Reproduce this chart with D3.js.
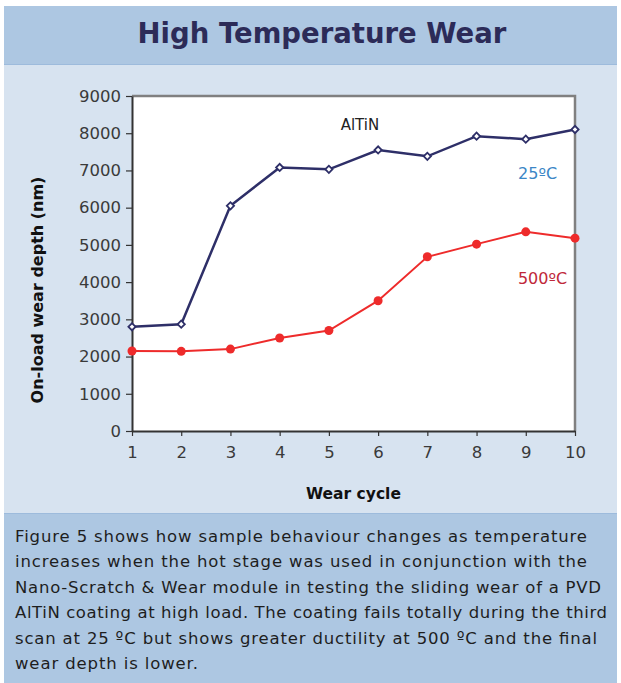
<!DOCTYPE html>
<html>
<head>
<meta charset="utf-8">
<script src="https://cdn.jsdelivr.net/npm/d3@7"></script>
<style>
  body { margin: 0; background: #fff; }
  svg text { font-family: "DejaVu Sans", sans-serif; }
</style>
</head>
<body>
<div id="chart"></div>
<script>
// data
var cycles = [1, 2, 3, 4, 5, 6, 7, 8, 9, 10];
var depth25 = [2800, 2870, 6050, 7080, 7030, 7550, 7380, 7920, 7840, 8100];
var depth500 = [2150, 2140, 2200, 2500, 2700, 3500, 4680, 5020, 5350, 5180];
var yTicks = [0, 1000, 2000, 3000, 4000, 5000, 6000, 7000, 8000, 9000];
var captionLines = [
  "Figure 5 shows how sample behaviour changes as temperature",
  "increases when the hot stage was used in conjunction with the",
  "Nano-Scratch & Wear module in testing the sliding wear of a PVD",
  "AlTiN coating at high load. The coating fails totally during the third",
  "scan at 25 \u00baC but shows greater ductility at 500 \u00baC and the final",
  "wear depth is lower."
];

var W = 621, H = 683;
var svg = d3.select("#chart").append("svg")
  .attr("width", W)
  .attr("height", H);

// panel bands
svg.append("rect").attr("x", 4).attr("y", 6).attr("width", 613).attr("height", 58).attr("fill", "#adc7e2");
svg.append("rect").attr("x", 4).attr("y", 64).attr("width", 613).attr("height", 449).attr("fill", "#d7e3f0");
svg.append("line").attr("x1", 4).attr("x2", 617).attr("y1", 64.5).attr("y2", 64.5).attr("stroke", "#9dbbdc");
svg.append("rect").attr("x", 4).attr("y", 513).attr("width", 613).attr("height", 170).attr("fill", "#adc7e2");
svg.append("line").attr("x1", 4).attr("x2", 617).attr("y1", 513.5).attr("y2", 513.5).attr("stroke", "#9dbbdc");

svg.append("text")
  .attr("x", 322).attr("y", 43)
  .attr("text-anchor", "middle")
  .attr("font-size", 27.5).attr("font-weight", "bold")
  .attr("fill", "#2c2b58")
  .text("High Temperature Wear");

var margin = { top: 96, left: 132, right: 575, bottom: 431 };

var x = d3.scaleLinear().domain([1, 10]).range([margin.left, margin.right]);
var y = d3.scaleLinear().domain([0, 9000]).range([margin.bottom, margin.top]);

// plot area
svg.append("rect")
  .attr("x", margin.left).attr("y", margin.top)
  .attr("width", margin.right - margin.left).attr("height", margin.bottom - margin.top)
  .attr("fill", "#fff");
svg.append("path")
  .attr("d", "M" + margin.left + "," + margin.top + "H" + margin.right + "V" + margin.bottom)
  .attr("fill", "none").attr("stroke", "#808080").attr("stroke-width", 2.5);

var xAxis = d3.axisBottom(x).tickValues(cycles).tickSize(5).tickSizeOuter(0).tickFormat(d3.format("d"));
var yAxis = d3.axisLeft(y).tickValues(yTicks).tickSize(6).tickSizeOuter(0).tickFormat(d3.format("d"));

var gx = svg.append("g").attr("transform", "translate(0," + margin.bottom + ")").call(xAxis);
var gy = svg.append("g").attr("transform", "translate(" + margin.left + ",0)").call(yAxis);

[gx, gy].forEach(function (g) {
  g.select(".domain").attr("stroke", "#333").attr("stroke-width", 2);
  g.selectAll(".tick line").attr("stroke", "#333").attr("stroke-width", 1.2);
  g.selectAll(".tick text")
    .attr("font-size", 16.5)
    .attr("fill", "#3a3a3a")
    .attr("font-family", "'DejaVu Sans', sans-serif");
});
gx.selectAll(".tick text").attr("dy", "1.15em");
gy.selectAll(".tick text").attr("dx", "-2");

svg.append("text")
  .attr("x", x(5.5)).attr("y", 499)
  .attr("text-anchor", "middle")
  .attr("font-size", 15.5).attr("font-weight", "bold").attr("fill", "#111")
  .text("Wear cycle");

svg.append("text")
  .attr("transform", "translate(43,290) rotate(-90)")
  .attr("text-anchor", "middle")
  .attr("font-size", 16).attr("font-weight", "bold").attr("fill", "#111")
  .text("On-load wear depth (nm)");

var line = d3.line()
  .x(function (d, i) { return x(cycles[i]); })
  .y(function (d) { return y(d); });

// 500 C series
svg.append("path")
  .datum(depth500)
  .attr("d", line)
  .attr("fill", "none").attr("stroke", "#ee2b2b").attr("stroke-width", 2);
svg.selectAll("circle.hot")
  .data(depth500)
  .enter().append("circle")
  .attr("class", "hot")
  .attr("cx", function (d, i) { return x(cycles[i]); })
  .attr("cy", function (d) { return y(d); })
  .attr("r", 4.5)
  .attr("fill", "#ee2b2b");

// 25 C series
svg.append("path")
  .datum(depth25)
  .attr("d", line)
  .attr("fill", "none").attr("stroke", "#2e2f68").attr("stroke-width", 2.5);
var diamond = d3.symbol().type(d3.symbolSquare).size(26);
svg.selectAll("path.cold")
  .data(depth25)
  .enter().append("path")
  .attr("class", "cold")
  .attr("d", diamond)
  .attr("transform", function (d, i) { return "translate(" + x(cycles[i]) + "," + y(d) + ") rotate(45)"; })
  .attr("fill", "#fff").attr("stroke", "#2e2f68").attr("stroke-width", 1.8);

// labels in the plot
svg.append("text").attr("x", x(5.63)).attr("y", y(8100))
  .attr("text-anchor", "middle").attr("font-size", 15).attr("fill", "#222").text("AlTiN");
svg.append("text").attr("x", x(9.24)).attr("y", y(6770))
  .attr("text-anchor", "middle").attr("font-size", 16).attr("fill", "#3b86c6").text("25\u00baC");
svg.append("text").attr("x", x(9.34)).attr("y", y(3950))
  .attr("text-anchor", "middle").attr("font-size", 16).attr("fill", "#c0283a").text("500\u00baC");

// caption
var captionWidths = [572, 572, 586, 592, 582, 183];
svg.selectAll("text.caption")
  .data(captionLines)
  .enter().append("text")
  .attr("class", "caption")
  .attr("x", 15)
  .attr("y", function (d, i) { return 542 + i * 25.4; })
  .attr("font-size", 16.5)
  .attr("fill", "#1e1e1e")
  .attr("textLength", function (d, i) { return captionWidths[i]; })
  .attr("lengthAdjust", "spacing")
  .text(function (d) { return d; });
</script>
</body>
</html>
